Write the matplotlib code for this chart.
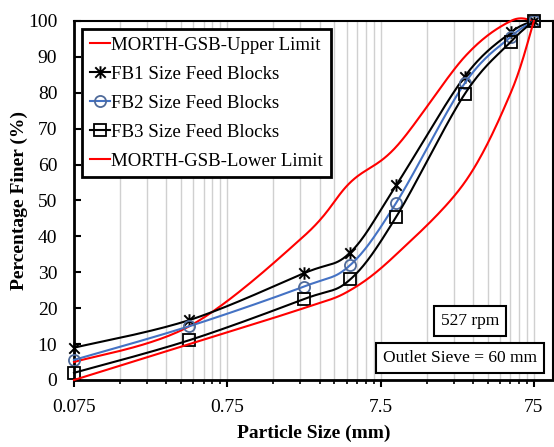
import numpy as np
import matplotlib
matplotlib.use("Agg")
import matplotlib.pyplot as plt
from matplotlib.path import Path
from matplotlib.ticker import FixedLocator, NullFormatter

plt.rcParams['font.family'] = ['Liberation Serif', 'DejaVu Serif']

# sieve sizes (mm) and percent finer
sieve = [0.075, 0.425, 2.36, 4.75, 9.5, 26.5, 53, 75]
upper = [5, 15, 40, 55, 65, 90, 100, 100]
fb1 = [9, 16.7, 29.7, 35.5, 54.3, 84.5, 96.8, 100]
fb2 = [5.6, 15.0, 26.0, 32.0, 49.4, 82.6, 95.6, 100]
fb3 = [2.0, 11.1, 22.5, 28.0, 45.5, 79.6, 94.2, 100]
lower = [0, 10, 20, 25, 35, 55, 80, 100]

major_ticks = [0.075, 0.75, 7.5, 75]
tick_labels = ['0.075', '0.75', '7.5', '75']

NSEG = 30


def smooth(x, y):
    # excel style smoothed line (catmull-rom in log-x space)
    lx = np.log10(np.asarray(x, float))
    yy = np.asarray(y, float)
    P = np.column_stack([lx, yy])
    P = np.vstack([P[0], P, P[-1]])
    pts = []
    for i in range(1, len(P) - 2):
        p0, p1, p2, p3 = P[i - 1], P[i], P[i + 1], P[i + 2]
        c1 = p1 + (p2 - p0) / 6
        c2 = p2 - (p3 - p1) / 6
        t = np.linspace(0, 1, NSEG, endpoint=False)[:, None]
        b = ((1 - t) ** 3) * p1 + 3 * ((1 - t) ** 2) * t * c1 + 3 * (1 - t) * t ** 2 * c2 + t ** 3 * p2
        pts.append(b)
    pts.append(P[-2][None, :])
    pts = np.vstack(pts)
    return 10 ** pts[:, 0], pts[:, 1]


# excel asterisk: X plus vertical bar
star = Path([(-1, -1), (1, 1), (-1, 1), (1, -1), (0, -1.2), (0, 1.2)],
            [Path.MOVETO, Path.LINETO, Path.MOVETO, Path.LINETO, Path.MOVETO, Path.LINETO])

fig = plt.figure(figsize=(5.54, 4.47), dpi=100)
ax = fig.add_axes([74 / 554, 1 - 380 / 447, 479 / 554, 359 / 447])

marks = [i * NSEG for i in range(len(sieve))]

series = [
    (upper, 'MORTH-GSB-Upper Limit', dict(color='#FF0000', marker=None)),
    (fb1, 'FB1 Size Feed Blocks', dict(color='black', marker=star, markersize=9,
                                       markeredgewidth=1.4)),
    (fb2, 'FB2 Size Feed Blocks', dict(color='#4472C4', marker='o', markersize=8,
                                       markerfacecolor='none', markeredgecolor='#4F6A99',
                                       markeredgewidth=1.3)),
    (fb3, 'FB3 Size Feed Blocks', dict(color='black', marker='s', markersize=8,
                                       markerfacecolor='none', markeredgewidth=1.3)),
    (lower, 'MORTH-GSB-Lower Limit', dict(color='#FF0000', marker=None)),
]
for vals, lab, kw in series:
    sx, sy = smooth(sieve, vals)
    ax.plot(sx, sy, lw=1.5, label=lab, markevery=marks, zorder=3, clip_on=False, **kw)

ax.set_xscale('log')
ax.set_xlim(0.075, 100)
ax.set_ylim(0, 100)

minors = [0.075 * k * 10 ** n for n in range(4) for k in range(2, 10) if 0.075 * k * 10 ** n < 100]
ax.xaxis.set_major_locator(FixedLocator(major_ticks))
ax.xaxis.set_minor_locator(FixedLocator(minors))
ax.set_xticklabels(tick_labels)
ax.xaxis.set_minor_formatter(NullFormatter())
ax.set_yticks(range(0, 101, 10))

ax.grid(True, axis='x', which='both', color='#D0D0D0', lw=1)
ax.set_axisbelow(True)

ax.tick_params(axis='x', which='major', direction='out', length=5, width=1.5, pad=9, labelsize=14)
ax.tick_params(axis='x', which='minor', direction='out', length=3, width=1.2)
ax.tick_params(axis='y', direction='in', length=5, width=1.5, pad=12, labelsize=14)

for s in ax.spines.values():
    s.set_color('black')
    s.set_linewidth(1.5)
ax.spines['left'].set_linewidth(2)
ax.spines['bottom'].set_linewidth(2)

ax.set_xlabel('Particle Size (mm)', fontsize=14, fontweight='bold', labelpad=6)
ax.set_ylabel('Percentage Finer (%)', fontsize=14, fontweight='bold', labelpad=0)

leg = ax.legend(loc='upper left', bbox_to_anchor=(8 / 479, 1 - 8 / 359), borderaxespad=0,
                fontsize=13.6, frameon=True, fancybox=False, framealpha=1,
                handlelength=1.1, handletextpad=0.05, labelspacing=0.62,
                borderpad=0.4)
leg.get_frame().set_edgecolor('black')
leg.get_frame().set_linewidth(2)

ax.text((470 - 74) / 479, (380 - 321) / 359, '527 rpm', transform=ax.transAxes,
        ha='center', va='center', fontsize=12.5,
        bbox=dict(boxstyle='square,pad=0.4', fc='white', ec='black', lw=1.5))
ax.text((460 - 74) / 479, (380 - 358) / 359, 'Outlet Sieve = 60 mm', transform=ax.transAxes,
        ha='center', va='center', fontsize=12.5,
        bbox=dict(boxstyle='square,pad=0.4', fc='white', ec='black', lw=1.5))

fig.savefig('out.png', dpi=100)
